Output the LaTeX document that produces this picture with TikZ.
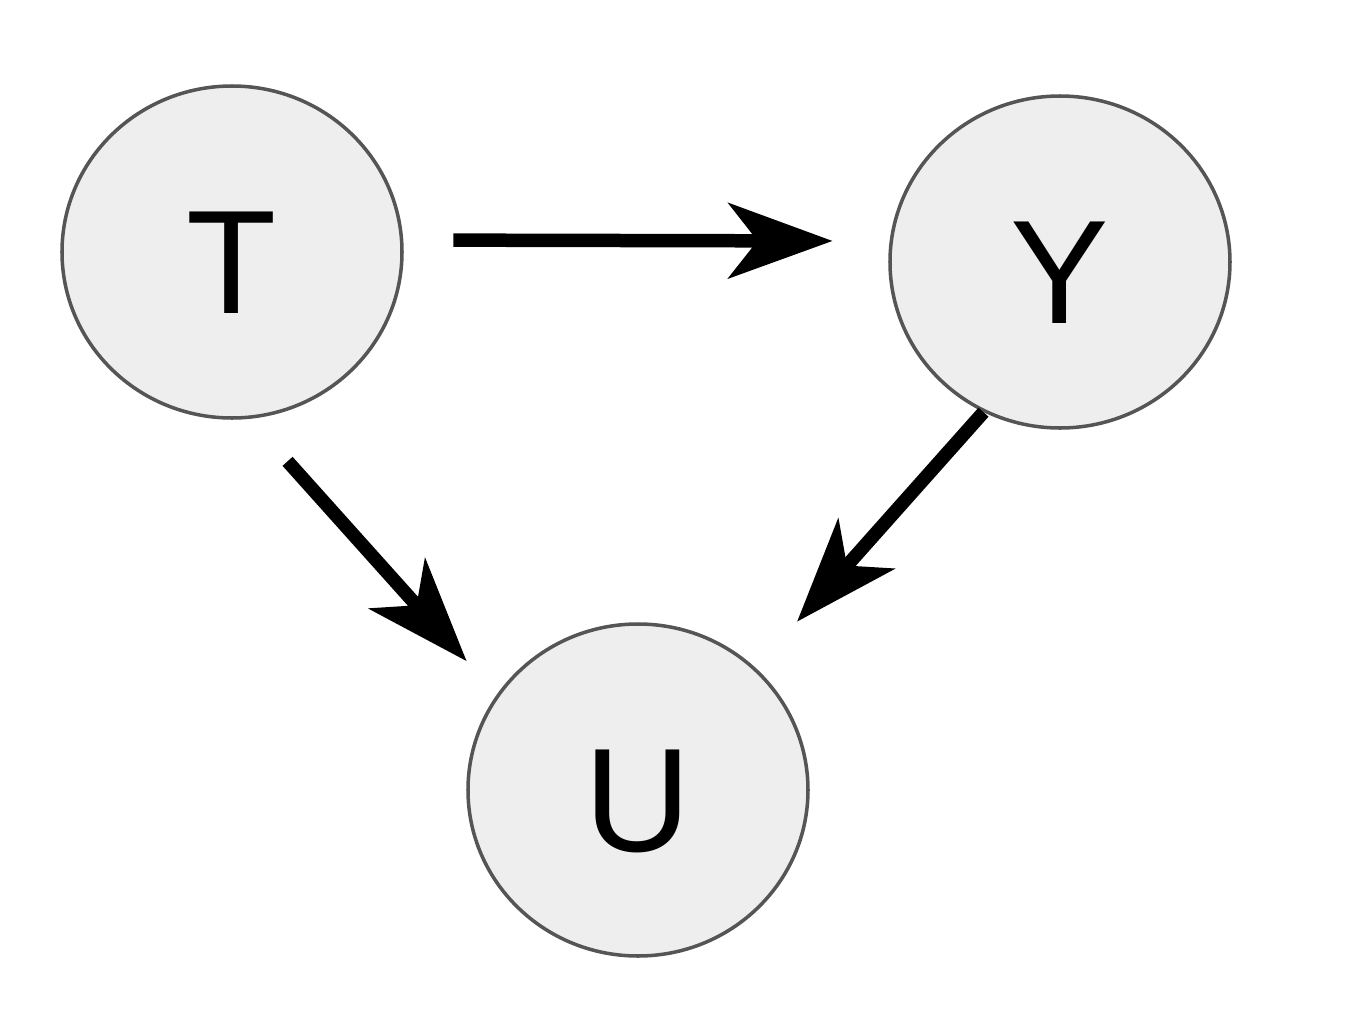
\documentclass[tikz,border=0pt]{standalone}
\usepackage{fontspec}
\setmainfont{Liberation Sans}
\usepackage[svgnames]{xcolor}
\usetikzlibrary{arrows.meta,positioning,shapes.geometric}
\definecolor{nodefill}{HTML}{EEEEEE}
\definecolor{nodeline}{HTML}{555555}

\begin{document}
\begin{tikzpicture}[
  every node/.style={font=\fontsize{42}{50}\selectfont},
  varnode/.style={draw=nodeline, line width=1pt, fill=nodefill, ellipse, inner sep=0pt, text height=12.2mm, text depth=0mm, minimum width=34mm, minimum height=33.2mm},
  causal/.style={-{Stealth[length=10.4mm, width=7.5mm, inset=2.9mm]}, line width=0.135cm, black},
]
  \useasboundingbox (0,0) rectangle (13.7,10.32);

  % variables
  \node[varnode] (T) at (2.32,7.80) {T};
  \node[varnode] (Y) at (10.60,7.70) {Y};
  \node[varnode] (U) at (6.38,2.42) {U};

  % edges
  \draw[causal, shorten <=0.5cm, shorten >=0.57cm] (T.4) -- (Y.173);
  \draw[causal, shorten <=0.57cm, shorten >=0.45cm] (T.-84) -- (U.146);
  \draw[causal, shorten <=0cm, shorten >=0.62cm] (Y.-117) -- (U.46);
\end{tikzpicture}
\end{document}
